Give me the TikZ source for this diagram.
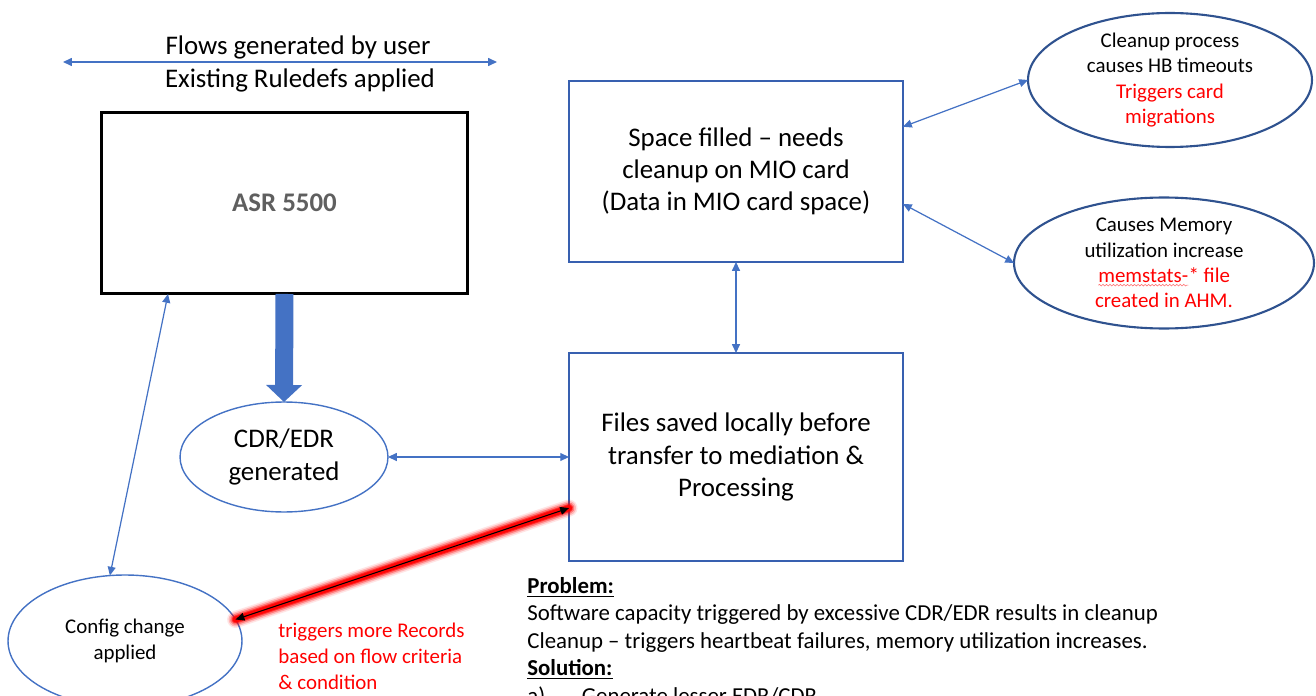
\documentclass[tikz,border=0pt]{standalone}
\usepackage{fontspec}
\setmainfont{Carlito}
\usetikzlibrary{arrows.meta,shapes.geometric,decorations.pathmorphing}
\definecolor{linkblue}{RGB}{68,114,196}
\definecolor{boxblue}{RGB}{56,96,176}
\definecolor{navy}{RGB}{47,82,143}
\definecolor{asrgray}{RGB}{95,95,95}
\newcommand{\squig}[1]{\tikz[baseline=(sq.base)]{\node[shape=rectangle,draw=none,minimum width=0pt,minimum height=0pt,
    inner sep=0pt,outer sep=0pt] (sq) {#1};
  \draw[red!55,line width=0.35pt,decorate,decoration={snake,amplitude=0.45pt,segment length=2pt}] ([yshift=-1.6pt]sq.base west) -- ([yshift=-1.6pt]sq.base east);}}
\begin{document}
\begin{tikzpicture}[x=0.02cm,y=-0.02cm,
  big/.style={font=\fontsize{15.3}{18.4}\selectfont},
  small/.style={font=\fontsize{11.9}{14.4}\selectfont},
  biarrow/.style={linkblue,line width=0.7pt,{Triangle[length=5pt,width=4.5pt]}-{Triangle[length=5pt,width=4.5pt]}},
  blubox/.style={draw=boxblue,line width=1.2pt,inner sep=0pt,outer sep=0pt,align=center,big},
  oval/.style={ellipse,inner sep=0pt,outer sep=0pt,align=center}]
\useasboundingbox (0,0) rectangle (1316,696);
\clip (0,0) rectangle (1316,696);

% top line
\node[big] (flows) at (298,47) {Flows generated by user};
\node[big] (rules) at (300,80) {Existing Ruledefs applied};
\coordinate (fleft) at (63,62);
\coordinate (fright) at (497,62);
\draw[biarrow] (fleft) -- (fright);

% boxes
\node[draw,line width=1.7pt,minimum width=7.34cm,minimum height=3.64cm,inner sep=0pt,outer sep=0pt,
  font=\fontsize{15.3}{18.4}\selectfont\bfseries,text=asrgray] (asr) at (284.5,203) {ASR 5500};
\node[blubox,minimum width=6.68cm,minimum height=3.62cm] (space) at (736,171.5)
  {Space filled -- needs\\cleanup on MIO card\\(Data in MIO card space)};
\node[blubox,minimum width=6.68cm,minimum height=4.16cm] (files) at (736,457)
  {Files saved locally before\\transfer to mediation \&\\Processing};

% ellipses
\node[oval,draw=navy,line width=1.2pt,minimum width=5.68cm,minimum height=2.68cm,small] (cleanup) at (1170,80)
  {Cleanup process\\causes HB timeouts\\\textcolor{red}{Triggers card}\\\textcolor{red}{migrations}};
\node[oval,draw=navy,line width=1.2pt,minimum width=6cm,minimum height=2.62cm,small] (memory) at (1164,263)
  {Causes Memory\\utilization increase\\\textcolor{red}{\squig{memstats-}* file}\\\textcolor{red}{created in AHM.}};
\node[oval,draw=linkblue,line width=0.8pt,minimum width=4.16cm,minimum height=2.2cm,
  font=\fontsize{15.3}{19.3}\selectfont] (cdr) at (284,457) {CDR/EDR\\generated};
\node[oval,draw=linkblue,line width=0.8pt,minimum width=4.68cm,minimum height=2.64cm,
  font=\fontsize{11.9}{14.7}\selectfont] (config) at (125,641) {Config change\\applied};

% connectors
\draw[line width=0.36cm,linkblue,-{Triangle[length=0.34cm,width=0.7cm]}] (asr.south) -- (cdr.north);
\draw[biarrow] (space.south) -- (files.north);
\draw[biarrow] (cdr.east) -- (files.west);
\draw[biarrow] (space.15.6) -- (cleanup.west);
\draw[biarrow] (space.-11.3) -- (memory.west);
\draw[biarrow] (asr.218) -- (config.103);

% glowing link
\foreach \w/\o in {17/0.1,14/0.2,11/0.35,8/0.6,6/0.9}
  \draw[red,line width=\w*0.57pt,opacity=\o,line cap=round] (config.11) -- (files.197.6);
\draw[black,line width=0.6pt,{Triangle[length=5pt,width=4.5pt]}-{Triangle[length=5pt,width=4.5pt]}] (config.11) -- (files.197.6);

% texts
\node[anchor=north west,inner sep=0pt,align=left,text=red,font=\fontsize{11.9}{14.7}\selectfont] (trig) at (278,623)
  {triggers more Records\\based on flow criteria\\\& condition};
\node[anchor=north west,inner sep=0pt,align=left,font=\fontsize{13}{15.6}\selectfont] (problem) at (527,577)
  {\underline{\textbf{Problem:}}\\
   Software capacity triggered by excessive CDR/EDR results in cleanup\\
   Cleanup -- triggers heartbeat failures, memory utilization increases.\\
   \underline{\textbf{Solution:}}\\
   a)\hspace{1.6em}Generate lesser EDR/CDR};
\end{tikzpicture}
\end{document}
